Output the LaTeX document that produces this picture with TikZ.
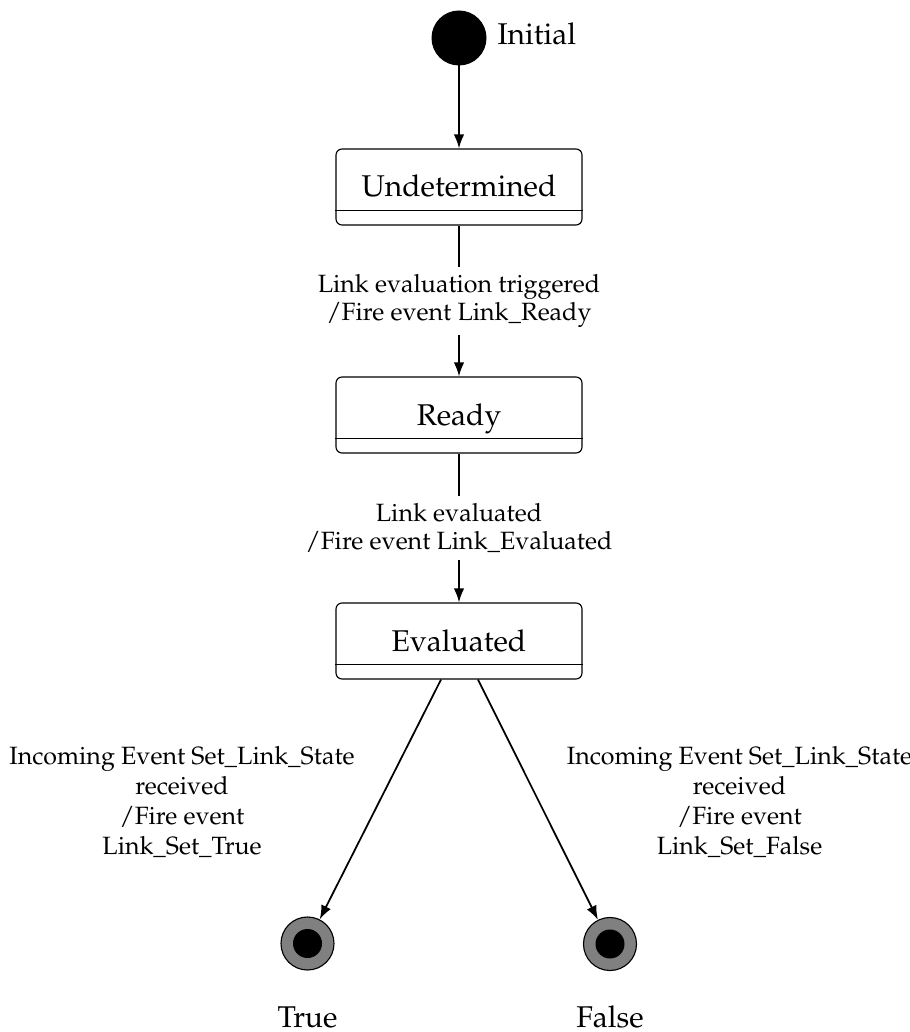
\documentclass[tikz,border=0pt]{standalone}
\IfFileExists{mathpazo.sty}
  {\usepackage[T1]{fontenc}\usepackage{mathpazo}}
  {\usepackage{fontspec}\setmainfont{Liberation Serif}}
\usetikzlibrary{arrows.meta}
\begin{document}
\begin{tikzpicture}[x=0.4pt,y=-0.4pt,
  statebox/.style={draw, line width=0.45pt, rounded corners=2.4pt,
    minimum width=98.4pt, minimum height=30.4pt, inner sep=0pt,
    text height=10pt, text depth=2pt, font=\large},
  initstate/.style={circle, fill=black, draw=black, minimum size=21.6pt, inner sep=0pt},
  endstate/.style={circle, fill=gray, draw=black, line width=0.45pt,
    minimum size=21.2pt, inner sep=0pt,
    path picture={\fill[black] (path picture bounding box.center) circle (5.8pt);}},
  trans/.style={line width=0.7pt, -{Latex[length=5.6pt,width=4.2pt]}},
  evlabel/.style={fill=white, align=center, inner sep=3pt,
    font={\fontsize{10}{11}\selectfont}},
  sidelabel/.style={align=center, font={\fontsize{10}{12}\selectfont}},
  statename/.style={font=\large, anchor=base, inner sep=0pt}
]
\useasboundingbox (0,0) rectangle (909,1032);

% initial pseudo-state
\node[initstate] (init) at (459,38) {};
\node[statename, anchor=base west] (initlbl) at (497,45) {Initial};

% states with an (empty) lower compartment
\node[statebox] (und) at (459,187) {Undetermined};
\node[statebox] (rdy) at (459,415) {Ready};
\node[statebox] (ev)  at (459,641) {Evaluated};
\foreach \s in {und,rdy,ev}
  \draw[line width=0.45pt] ([yshift=6pt]\s.south west) -- ([yshift=6pt]\s.south east);

% final states
\node[endstate] (tru) at (307.5,943.5) {};
\node[endstate] (fls) at (610,944) {};
\node[statename] (trulbl) at (307.5,1027) {True};
\node[statename] (flslbl) at (610,1027) {False};

% transitions
\draw[trans] (init) -- (und);
\draw[trans] (und) -- node[evlabel] {Link evaluation triggered\\/Fire event Link\_Ready} (rdy);
\draw[trans] (rdy) -- node[evlabel] {Link evaluated\\/Fire event Link\_Evaluated} (ev);
\draw[trans] ([xshift=-7.2pt]ev.south) -- (tru);
\draw[trans] ([xshift=7.6pt]ev.south) -- (fls);

% guards / actions of the branching transitions
\node[sidelabel] (trueact) at (182,802) {Incoming Event Set\_Link\_State\\received\\/Fire event\\Link\_Set\_True};
\node[sidelabel] (falseact) at (739.5,802) {Incoming Event Set\_Link\_State\\received\\/Fire event\\Link\_Set\_False};
\end{tikzpicture}
\end{document}
